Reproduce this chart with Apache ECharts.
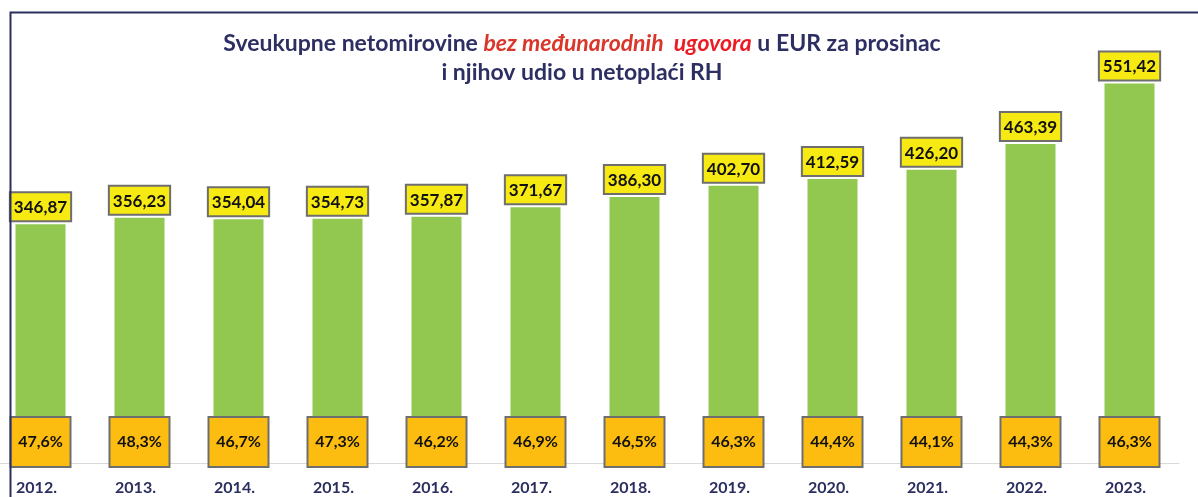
<!DOCTYPE html>
<html>
<head>
<meta charset="utf-8">
<script src="https://cdn.jsdelivr.net/npm/echarts@6/dist/echarts.min.js"></script>
<style>
html,body{margin:0;padding:0;background:#fff;}
#c{width:1198px;height:497px;}
</style>
</head>
<body>
<div id="c"></div>
<script>
const categories = ['2012.','2013.','2014.','2015.','2016.','2017.','2018.','2019.','2020.','2021.','2022.','2023.'];
const pensionEUR = [346.87,356.23,354.04,354.73,357.87,371.67,386.30,402.70,412.59,426.20,463.39,551.42];
const shareOfNetPay = [47.6,48.3,46.7,47.3,46.2,46.9,46.5,46.3,44.4,44.1,44.3,46.3];

const fmt = (v, d) => v.toFixed(d).replace('.', ',');
const FONT = 'Lato, "Open Sans", sans-serif';

const chart = echarts.init(document.getElementById('c'), null, {renderer:'canvas'});
chart.setOption({
  backgroundColor: '#ffffff',
  animation: false,
  title: {
    left: 577, top: 24, textAlign: 'center',
    text: '{n|Sveukupne netomirovine }{r1|bez međunarodnih  }{r2|ugovora}{n| u EUR za prosinac}\n{n|i njihov udio u netoplaći RH}',
    textStyle: {
      rich: {
        n: {fontFamily: FONT, fontWeight: 'bold', fontSize: 23, color: '#2d2f63', lineHeight: 29},
        r1: {fontFamily: FONT, fontWeight: 'bold', fontStyle: 'italic', fontSize: 23, color: '#d9372b', lineHeight: 29},
        r2: {fontFamily: FONT, fontWeight: 'bold', fontStyle: 'italic', fontSize: 23, color: '#ec1c24', lineHeight: 29}
      }
    }
  },
  graphic: [{
    type: 'rect', left: 8, top: 10, z: 100,
    shape: {x: 0, y: 0, width: 1200, height: 500},
    style: {fill: 'none', stroke: '#2b2f5e', lineWidth: 2}
  }],
  grid: {left: -9, right: 19, top: 50, bottom: 34, outerBoundsMode: 'none', containLabel: false},
  xAxis: {
    type: 'category', data: categories,
    axisLine: {show: true, lineStyle: {color: '#d9d9d9', width: 1}},
    axisTick: {show: false},
    axisLabel: {fontFamily: FONT, fontWeight: 'bold', fontSize: 16, color: '#2b2e5e', margin: 17, padding: [0, 8, 0, 0]}
  },
  yAxis: {type: 'value', min: 0, max: 600, show: false, splitLine: {show: false}},
  series: [{
    type: 'bar', data: pensionEUR, barWidth: 50,
    itemStyle: {color: '#92c850'},
    label: {
      show: true, position: 'top', distance: 4,
      formatter: p => fmt(p.value, 2),
      fontFamily: FONT, fontWeight: 'bold', fontSize: 17, color: '#111',
      backgroundColor: '#f7ea12', borderColor: '#6e6e6e', borderWidth: 2,
      padding: [6, 3, 4, 3]
    }
  }, {
    type: 'bar', data: pensionEUR, barWidth: 50, barGap: '-100%',
    itemStyle: {color: 'rgba(0,0,0,0)'},
    label: {
      show: true, position: 'insideBottom', distance: -3,
      formatter: p => fmt(shareOfNetPay[p.dataIndex], 1) + '%',
      fontFamily: FONT, fontWeight: 'bold', fontSize: 16, color: '#111',
      backgroundColor: '#fdbd10', borderColor: '#6e6e6e', borderWidth: 2,
      width: 58, height: 48, lineHeight: 48, align: 'center', padding: 0
    }
  }]
});
</script>
</body>
</html>
